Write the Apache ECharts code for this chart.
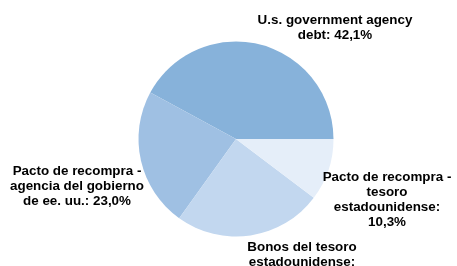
<!DOCTYPE html>
<html>
<head>
<meta charset="utf-8">
<script src="https://cdn.jsdelivr.net/npm/echarts@6/dist/echarts.min.js"></script>
<style>
  html, body { margin: 0; padding: 0; background: #fff; }
  #chart { width: 457px; height: 266px; }
</style>
</head>
<body>
<div id="chart"></div>
<script>
// data
var names = [
  'U.s. government agency\ndebt',
  'Pacto de recompra -\nagencia del gobierno\nde ee. uu.',
  'Bonos del tesoro\nestadounidense',
  'Pacto de recompra -\ntesoro\nestadounidense'
];
var values = [42.1, 23.0, 24.6, 10.3];
var colors = ['#87b2da', '#9fc0e3', '#c2d7ef', '#e5eef9'];
var valueSep = [' ', ' ', '\n', '\n'];
// label centres (x, y) in px
var labelPos = [[335, 28], [77, 186], [302, 262], [387, 200]];

var chart = echarts.init(document.getElementById('chart'));

chart.setOption({
  animation: false,
  series: [{
    type: 'pie',
    center: [236, 139],
    radius: 97.5,
    startAngle: 0,
    clockwise: false,
    silent: true,
    label: {
      show: true,
      color: '#000',
      fontFamily: 'Liberation Sans, Arial, sans-serif',
      fontWeight: 'bold',
      fontSize: 13.4,
      lineHeight: 15,
      align: 'center',
      overflow: 'none',
      width: 300,
      formatter: function (p) {
        return p.name + ':' + valueSep[p.dataIndex] + p.value.toFixed(1).replace('.', ',') + '%';
      }
    },
    labelLine: { show: false },
    labelLayout: function (p) {
      var pos = labelPos[p.dataIndex];
      return { x: pos[0], y: pos[1], align: 'center', verticalAlign: 'middle' };
    },
    data: names.map(function (n, i) {
      return { name: n, value: values[i], itemStyle: { color: colors[i] } };
    })
  }]
});
</script>
</body>
</html>
